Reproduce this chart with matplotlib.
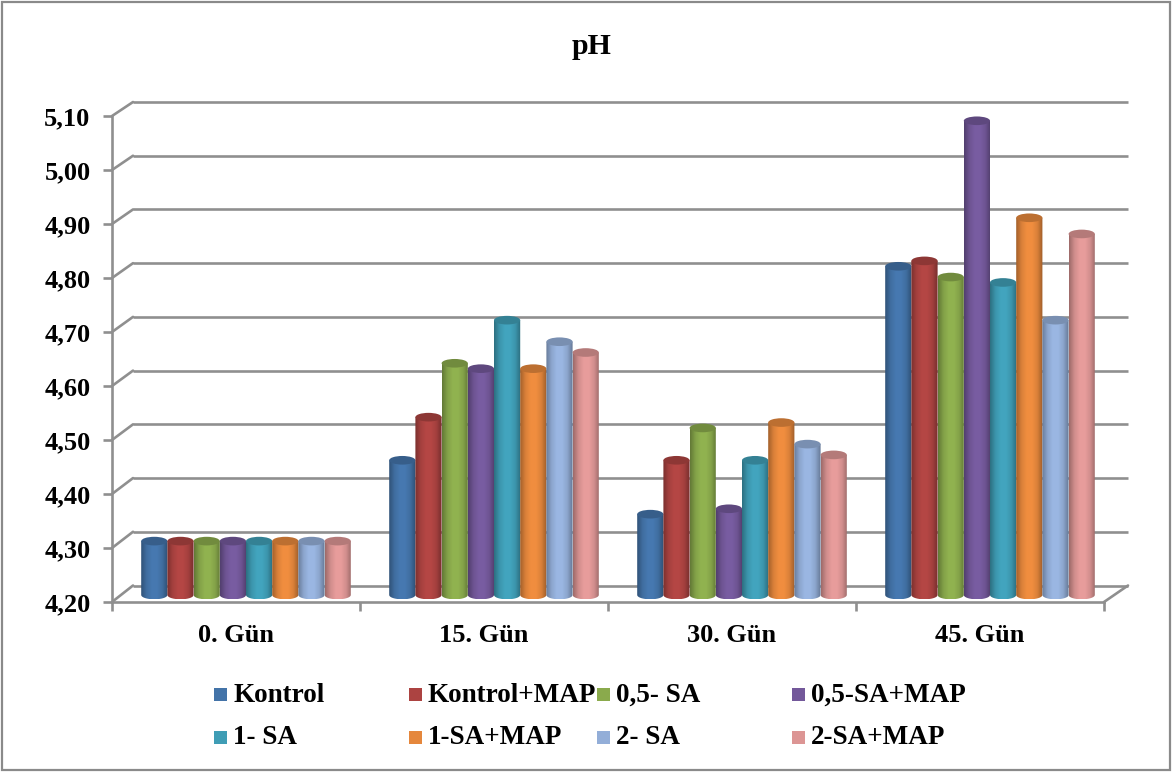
import matplotlib
matplotlib.use("Agg")
import matplotlib.pyplot as plt
import numpy as np
from matplotlib.colors import LinearSegmentedColormap
from matplotlib.patches import ConnectionPatch, Ellipse, Rectangle
from matplotlib.path import Path
from matplotlib.patches import PathPatch

plt.rcParams['font.family'] = ['Liberation Serif', 'DejaVu Serif']
plt.rcParams['font.weight'] = 'bold'

W, H = 1175, 773

gunler = ['0. Gün', '15. Gün', '30. Gün', '45. Gün']
seriler = ['Kontrol', 'Kontrol+MAP', '0,5- SA', '0,5-SA+MAP',
           '1- SA', '1-SA+MAP', '2- SA', '2-SA+MAP']
renkler = ['#4373a8', '#ac4341', '#8aaa4c', '#73589a',
           '#3f9db5', '#e5873c', '#93aed8', '#dc9594']
gun0 = [4.30, 4.30, 4.30, 4.30, 4.30, 4.30, 4.30, 4.30]
gun15 = [4.45, 4.53, 4.63, 4.62, 4.71, 4.62, 4.67, 4.65]
gun30 = [4.35, 4.45, 4.51, 4.36, 4.45, 4.52, 4.48, 4.46]
gun45 = [4.81, 4.82, 4.79, 5.08, 4.78, 4.90, 4.71, 4.87]
y_ticks = [4.20, 4.30, 4.40, 4.50, 4.60, 4.70, 4.80, 4.90, 5.00, 5.10]

GRI = '#8f8f8f'
FS = 19
LW = 1.9


def eksen(x0, y_top, x1, y_bot):
    # piksel kutusundan eksen olustur
    a = fig.add_axes([x0 / W, 1 - y_bot / H, (x1 - x0) / W, (y_bot - y_top) / H])
    a.set_xlim(0, 4)
    a.set_ylim(4.20, 5.10)
    a.patch.set_alpha(0)
    return a


fig = plt.figure(figsize=(W / 100, H / 100), dpi=100, facecolor='white')

# dis cerceve
fig.add_artist(Rectangle((2 / W, 1 - 770 / H), 1168 / W, 768 / H, transform=fig.transFigure,
                         fill=False, edgecolor='#8a8a8a', linewidth=1.6))

# on duzlem: eksenler ve etiketler
ax = eksen(112, 116, 1104, 602)
ax.spines['top'].set_visible(False)
ax.spines['right'].set_visible(False)
for s in ['left', 'bottom']:
    ax.spines[s].set_color(GRI)
    ax.spines[s].set_linewidth(LW)
ax.set_yticks(y_ticks)
ax.set_yticklabels([f'{v:.2f}'.replace('.', ',') for v in y_ticks], fontsize=FS, fontweight='bold')
ax.set_xticks(range(5))
ax.set_xticklabels([])
ax.tick_params(axis='both', color=GRI, width=LW, length=6.5, pad=3)
ax.tick_params(axis='y', pad=9)
for i, g in enumerate(gunler):
    ax.annotate(g, (i + 0.5, 4.20), xytext=(0, -33), textcoords='offset pixels',
                ha='center', va='center', fontsize=FS, fontweight='bold')

# arka duvar: izgara cizgileri
duvar = eksen(133, 102, 1128, 585.5)
duvar.axis('off')
for v in y_ticks:
    duvar.plot([0, 4], [v, v], color=GRI, linewidth=LW, solid_capstyle='butt', clip_on=False)
    fig.add_artist(ConnectionPatch((0, v), (0, v), coordsA=ax.transData, coordsB=duvar.transData,
                                   color=GRI, linewidth=LW))
fig.add_artist(ConnectionPatch((4, 4.20), (4, 4.20), coordsA=ax.transData, coordsB=duvar.transData,
                               color=GRI, linewidth=LW))

# silindirler
cubuk = eksen(122, 110, 1114, 595)
cubuk.axis('off')
bw = 26.2 / 248
eh = 0.016

for i, vals in enumerate([gun0, gun15, gun30, gun45]):
    for j, v in enumerate(vals):
        x0 = i + 0.5 - 4 * bw + j * bw
        x1 = x0 + bw
        c = np.array(matplotlib.colors.to_rgb(renkler[j]))
        cm = LinearSegmentedColormap.from_list(
            'c', [c * 0.72, c * 0.95, np.minimum(c * 1.05, 1), np.minimum(c * 1.05, 1), c * 0.95, c * 0.7])
        im = cubuk.imshow(np.linspace(0, 1, 40).reshape(1, -1), cmap=cm, aspect='auto',
                          extent=[x0, x1, 4.20 - eh / 2, v], zorder=3 + j)
        # yan yuz: alt kenari yuvarlak
        t = np.linspace(np.pi, 2 * np.pi, 20)
        xs = (x0 + x1) / 2 + bw / 2 * np.cos(t)
        ys = 4.20 + eh / 2 * np.sin(t)
        verts = list(zip(xs, ys)) + [(x1, v), (x0, v), (x0, 4.20)]
        kod = [Path.MOVETO] + [Path.LINETO] * (len(verts) - 1)
        clip = PathPatch(Path(verts, kod), transform=cubuk.transData, facecolor='none', edgecolor='none')
        cubuk.add_patch(clip)
        im.set_clip_path(clip)
        # eksen kutusunun altina tassin
        im.set_clip_box(fig.bbox)
        cubuk.add_patch(Ellipse(((x0 + x1) / 2, v), bw, eh, facecolor=c * 0.82, edgecolor='none',
                                zorder=3 + j))
cubuk.set_xlim(0, 4)
cubuk.set_ylim(4.20, 5.10)

# baslik
fig.text(592 / W, 1 - 47 / H, 'pH', ha='center', va='center', fontsize=21.5, fontweight='bold')

# lejant
kare_x = [214, 409, 597, 792]
sira_y = [694, 737]
for k, ad in enumerate(seriler):
    px = kare_x[k % 4]
    py = sira_y[k // 4]
    fig.add_artist(Rectangle((px / W, 1 - (py + 6.5) / H), 13 / W, 13 / H, transform=fig.transFigure,
                             facecolor=renkler[k], edgecolor='none'))
    fig.text((px + 19) / W, 1 - (py + 1) / H, ad, ha='left', va='center', fontsize=19.5, fontweight='bold')

fig.savefig('out.png', dpi=100)
